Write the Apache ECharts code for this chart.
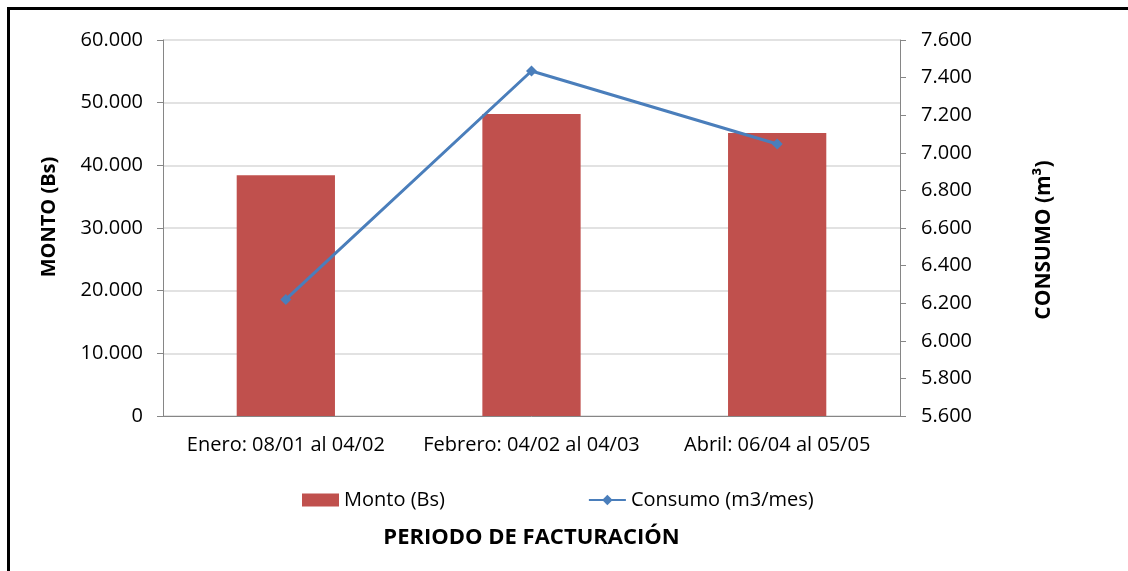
<!DOCTYPE html>
<html>
<head>
<meta charset="utf-8">
<script src="https://cdn.jsdelivr.net/npm/echarts@6/dist/echarts.min.js"></script>
<style>
  html, body { margin: 0; padding: 0; background: #fff; }
  #frame {
    position: absolute; left: 7px; top: 7px; width: 1200px; height: 700px;
    border-left: 3px solid #000; border-top: 3px solid #000;
  }
  #main { position: absolute; left: 0; top: 0; width: 1128px; height: 571px; }
</style>
</head>
<body>
<div id="frame"></div>
<div id="main"></div>
<script>
// datos
var periodos = ["Enero: 08/01 al 04/02", "Febrero: 04/02 al 04/03", "Abril: 06/04 al 05/05"];
var monto = [38400, 48200, 45150];
var consumo = [6220, 7435, 7047];

var fuente = "'Open Sans', 'Noto Sans', sans-serif";

// 60000 -> "60.000"
function miles(v) {
  return String(v).replace(/\B(?=(\d{3})+(?!\d))/g, ".");
}

var myChart = echarts.init(document.getElementById("main"));
myChart.setOption({
  animation: false,
  textStyle: { fontFamily: fuente },
  grid: { left: 163, right: 228, top: 40, bottom: 155 },
  legend: {
    left: 297,
    top: 485,
    itemGap: 143,
    itemWidth: 37,
    itemHeight: 13,
    textStyle: { fontSize: 20, color: "#000", fontFamily: fuente },
    data: [
      { name: "Monto (Bs)", icon: "rect" },
      { name: "Consumo (m3/mes)" }
    ]
  },
  xAxis: {
    type: "category",
    data: periodos,
    name: "PERIODO DE FACTURACIÓN",
    nameLocation: "middle",
    nameGap: 111,
    nameTextStyle: { fontSize: 22, fontWeight: "bold", color: "#000", fontFamily: fuente },
    axisLine: { lineStyle: { color: "#868686", width: 1 } },
    axisTick: { show: false },
    axisLabel: { fontSize: 20, color: "#000", margin: 19, interval: 0 }
  },
  yAxis: [
    {
      type: "value",
      min: 0,
      max: 60000,
      interval: 10000,
      name: "MONTO (Bs)",
      nameLocation: "middle",
      nameGap: 104,
      nameTextStyle: { fontSize: 20, fontWeight: "bold", color: "#000", fontFamily: fuente, padding: [0, 0, 0, 22] },
      axisLine: { show: true, lineStyle: { color: "#868686" } },
      axisTick: { show: true, length: 6, lineStyle: { color: "#868686" } },
      axisLabel: { fontSize: 20, color: "#000", margin: 20, formatter: miles },
      splitLine: { lineStyle: { color: "#d9d9d9", width: 1.5 } }
    },
    {
      type: "value",
      min: 5600,
      max: 7600,
      interval: 200,
      name: "CONSUMO (m³)",
      nameLocation: "middle",
      nameGap: 134,
      nameTextStyle: { fontSize: 21, fontWeight: "bold", color: "#000", fontFamily: fuente, padding: [0, 24, 0, 0] },
      axisLine: { show: true, lineStyle: { color: "#868686" } },
      axisTick: { show: true, length: 6, lineStyle: { color: "#868686" } },
      axisLabel: { fontSize: 20, color: "#000", margin: 21, formatter: miles },
      splitLine: { show: false }
    }
  ],
  series: [
    {
      name: "Monto (Bs)",
      type: "bar",
      yAxisIndex: 0,
      barWidth: "40%",
      itemStyle: { color: "#C0504D" },
      data: monto
    },
    {
      name: "Consumo (m3/mes)",
      type: "line",
      yAxisIndex: 1,
      symbol: "diamond",
      symbolSize: 11,
      lineStyle: { color: "#4A7EBB", width: 3 },
      itemStyle: { color: "#4A7EBB" },
      data: consumo
    }
  ]
});
</script>
</body>
</html>
